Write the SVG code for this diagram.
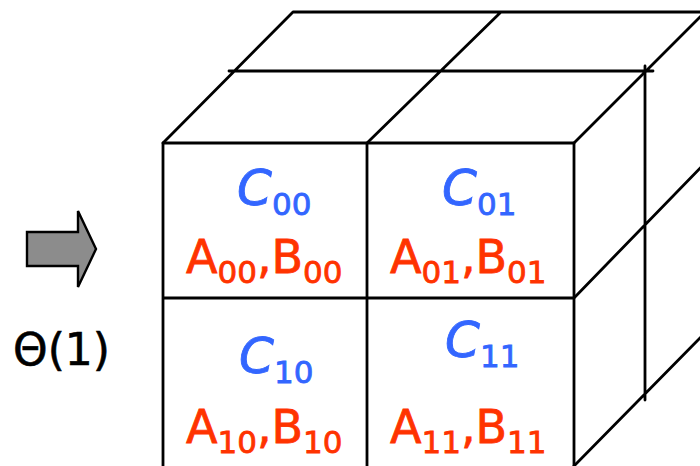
<svg xmlns="http://www.w3.org/2000/svg" width="700" height="466" viewBox="0 0 700 466">
<style>
.ln{stroke:#000;stroke-width:2.8;fill:none;stroke-linecap:round;stroke-linejoin:round}
.c{font-family:"DejaVu Sans",sans-serif;fill:#3366ff;font-size:50px;font-style:italic;stroke:#3366ff;stroke-width:0.8}
.ab{font-family:"DejaVu Sans",sans-serif;fill:#ff3300;font-size:46px;stroke:#ff3300;stroke-width:0.8}
.s{font-size:31px;font-style:normal}
.t{font-family:"DejaVu Sans",sans-serif;fill:#000;font-size:44px;stroke:#000;stroke-width:0.6}
</style>
<rect width="700" height="466" fill="#fff"/>
<g id="cube-lines">
<path class="ln" d="M163,143 H574 M163,143 V466 M367,143 V466 M163,298 H574 M574,143 V466"/>
<path class="ln" d="M163,143 L293,12 H700 M229,71 H653 M367,143 L501,12 M574,143 L705,12"/>
<path class="ln" d="M645,66 V400 M574,298 L705,163 M574,466 L705,333"/>
</g>
<g id="cell00">
<text class="c" x="237" y="205">C<tspan class="s" dy="10">00</tspan></text>
<text class="ab" x="186" y="273">A<tspan class="s" dy="10">00</tspan><tspan dy="-10">,B</tspan><tspan class="s" dy="10">00</tspan></text>
</g>
<g id="cell01">
<text class="c" x="442" y="205">C<tspan class="s" dy="10">01</tspan></text>
<text class="ab" x="390" y="273">A<tspan class="s" dy="10">01</tspan><tspan dy="-10">,B</tspan><tspan class="s" dy="10">01</tspan></text>
</g>
<g id="cell10">
<text class="c" x="239" y="373">C<tspan class="s" dy="10">10</tspan></text>
<text class="ab" x="186" y="443">A<tspan class="s" dy="10">10</tspan><tspan dy="-10">,B</tspan><tspan class="s" dy="10">10</tspan></text>
</g>
<g id="cell11">
<text class="c" x="445" y="357">C<tspan class="s" dy="10">11</tspan></text>
<text class="ab" x="390" y="443">A<tspan class="s" dy="10">11</tspan><tspan dy="-10">,B</tspan><tspan class="s" dy="10">11</tspan></text>
</g>
<g id="connectors">
<path d="M27,232 H78 V211 L96,249 L78,287 V266 H27 Z" fill="#8c8c8c" stroke="#000" stroke-width="2.4" stroke-linejoin="miter"/>
</g>
<g id="label">
<text class="t" x="13" y="365">Θ(1)</text>
</g>
</svg>
